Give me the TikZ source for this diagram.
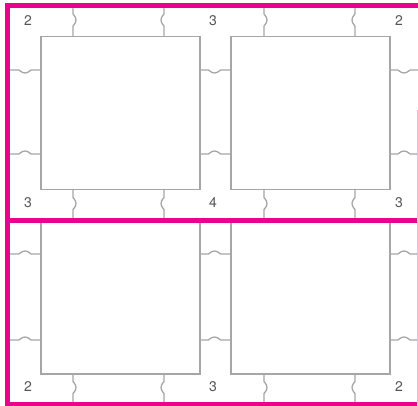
\documentclass[tikz,border=0pt]{standalone}
\usepackage{fontspec}
\setmainfont{TeX Gyre Heros}
\definecolor{frame}{HTML}{E8048C}
\definecolor{boxgray}{HTML}{A6A6A6}
\definecolor{numgray}{HTML}{555555}
\tikzset{
  cell/.style={draw=boxgray, line width=1.5pt, fill=white, inner sep=0pt, minimum width=159pt, minimum height=153pt, anchor=north west},
  cellb/.style={cell, minimum height=151pt},
  wire/.style={draw=boxgray, line width=1.3pt},
  frameline/.style={draw=frame, line width=5pt},
  num/.style={text=numgray, font=\fontsize{14}{14}\selectfont, inner sep=0pt}
}
% vertical squiggle: x, y1, y2, mid, dir
\newcommand{\vsq}[5]{%
  \draw[wire] (#1,#2) -- (#1,#4-7) .. controls (#1-#5*0.8,#4-5.5) and (#1+#5*3,#4-4) .. (#1+#5*3,#4)
   .. controls (#1+#5*3,#4+4) and (#1-#5*0.8,#4+5.5) .. (#1,#4+7) -- (#1,#3);}
% horizontal squiggle: y, x1, x2, mid, dir (+1 down)
\newcommand{\hsq}[5]{%
  \draw[wire] (#2,#1) -- (#4-7,#1) .. controls (#4-5.5,#1-#5*0.8) and (#4-4,#1+#5*3) .. (#4,#1+#5*3)
   .. controls (#4+4,#1+#5*3) and (#4+5.5,#1-#5*0.8) .. (#4+7,#1) -- (#3,#1);}
\begin{document}
\begin{tikzpicture}[x=1pt,y=-1pt]
\useasboundingbox (0,0) rectangle (418,406);
\fill[white] (0,0) rectangle (418,406);
% boxes
\node[cell] (A) at (40,36) {};
\node[cell] (B) at (230,36) {};
\node[cellb] (C) at (40,222) {};
\node[cellb] (D) at (230,222) {};
% vertical squiggles
\foreach \x/\d in {73/1,164/-1,264/1,355/-1}{
  \vsq{\x}{8}{36}{20}{\d}
  \vsq{\x}{189}{218}{203.5}{\d}
  \vsq{\x}{373}{402}{387.5}{\d}
}
% horizontal squiggles
\foreach \y/\d in {70/1,154/-1,254/-1,340/-1}{
  \hsq{\y}{10}{40}{25}{\d}
  \hsq{\y}{199}{230}{214.5}{\d}
  \hsq{\y}{389}{418}{404}{\d}
}
% frame
\draw[frameline] (5,5.5) -- (418,5.5);
\draw[frameline] (5,220.5) -- (418,220.5);
\draw[frameline] (5,404) -- (418,404);
\draw[frameline] (7.5,3) -- (7.5,406);
\draw[draw=frame!30, line width=0.8pt] (417,110) -- (417,406);
% numbers
\node[num] (n1) at (28,21) {2};
\node[num] (n2) at (213,21) {3};
\node[num] (n3) at (399,21) {2};
\node[num] (n4) at (28,203) {3};
\node[num] (n5) at (213,203) {4};
\node[num] (n6) at (399,203) {3};
\node[num] (n7) at (28,387) {2};
\node[num] (n8) at (213,387) {3};
\node[num] (n9) at (399,387) {2};
\end{tikzpicture}
\end{document}
